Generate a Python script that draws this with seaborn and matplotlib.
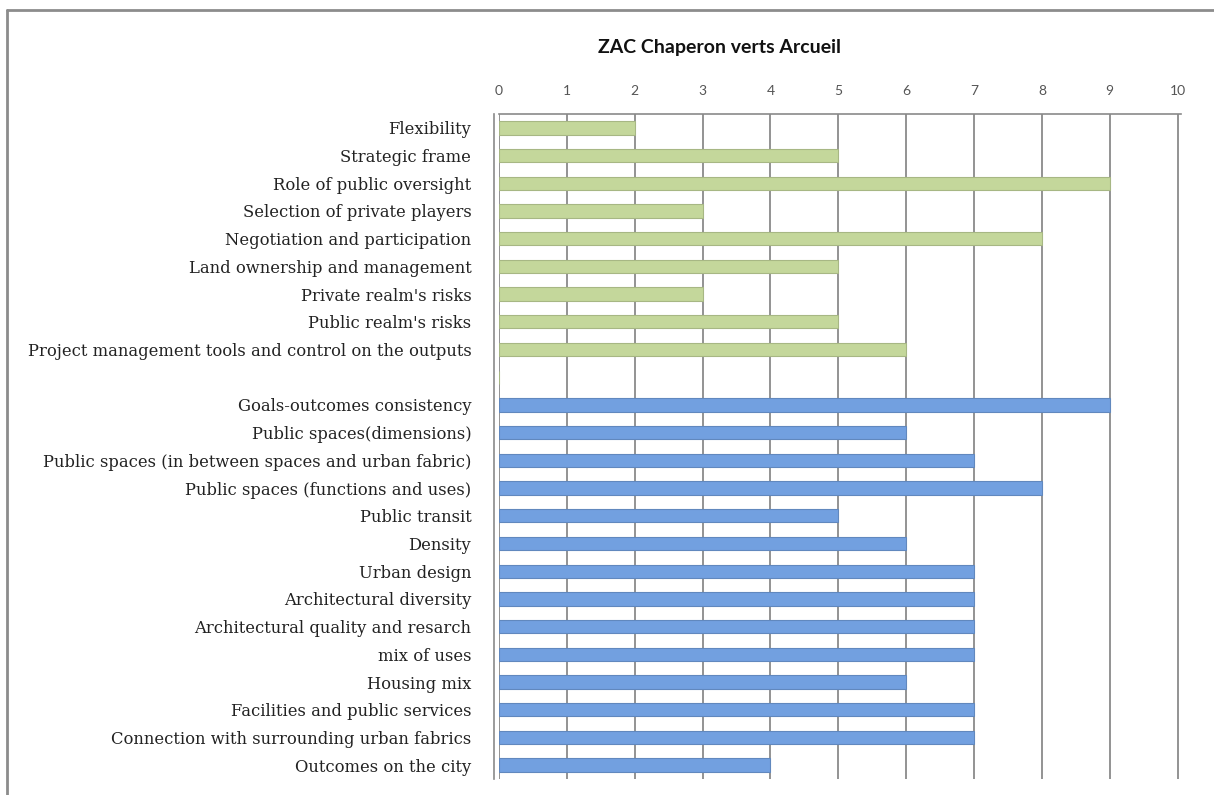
import matplotlib
matplotlib.use("Agg")
import matplotlib.pyplot as plt
import seaborn as sns
import pandas as pd
import numpy as np

# Process indicators (green) and outcome indicators (blue)
process_labels = [
    "Flexibility",
    "Strategic frame",
    "Role of public oversight",
    "Selection of private players",
    "Negotiation and participation",
    "Land ownership and management",
    "Private realm's risks",
    "Public realm's risks",
    "Project management tools and control on the outputs",
]
process_scores = [2, 5, 9, 3, 8, 5, 3, 5, 6]

outcome_labels = [
    "Goals-outcomes consistency",
    "Public spaces(dimensions)",
    "Public spaces (in between spaces and urban fabric)",
    "Public spaces (functions and uses)",
    "Public transit",
    "Density",
    "Urban design",
    "Architectural diversity",
    "Architectural quality and resarch",
    "mix of uses",
    "Housing mix",
    "Facilities and public services",
    "Connection with surrounding urban fabrics",
    "Outcomes on the city",
]
outcome_scores = [9, 6, 7, 8, 5, 6, 7, 7, 7, 7, 6, 7, 7, 4]

x_ticks = list(range(0, 11))
title = "ZAC Chaperon verts Arcueil"

green = "#c4d79b"
blue = "#72a0e0"

# one blank separator row between the two groups
spacer = " "
categories = process_labels + [spacer] + outcome_labels
scores = process_scores + [0] + outcome_scores
groups = ["process"] * len(process_labels) + ["process"] + ["outcome"] * len(outcome_labels)
df = pd.DataFrame({"category": categories, "score": scores, "group": groups})

sns.set_theme(style="white")
plt.rcParams["font.family"] = ["DejaVu Serif"]

fig = plt.figure(figsize=(12.14, 7.95), dpi=100)
fig.patch.set_facecolor("white")
ax = fig.add_axes([499 / 1214, 1 - 779 / 795, (1181 - 499) / 1214, (779 - 114) / 795])

# vertical gridlines behind the bars
for v in x_ticks:
    ax.axvline(v, color="#8a8a8a", lw=1.3, zorder=0)

sns.barplot(
    data=df, y="category", x="score", hue="group", order=categories,
    palette={"process": green, "outcome": blue}, dodge=False, orient="h",
    width=0.48, legend=False, ax=ax, zorder=2, saturation=1,
)
for patch in ax.patches:
    fc = patch.get_facecolor()
    edge = tuple(c * 0.85 for c in fc[:3])
    patch.set_edgecolor(edge)
    patch.set_linewidth(0.8)

ax.set_xlim(0, 10.05)
ax.set_ylim(len(categories) - 0.5, -0.5)
ax.xaxis.tick_top()
ax.set_xticks(x_ticks)
ax.set_xticklabels([str(t) for t in x_ticks], family=["Lato", "DejaVu Sans"])
ax.tick_params(axis="x", length=0, pad=12, labelsize=10, labelcolor="#555555")
ax.set_xlabel("")
ax.set_ylabel("")

ax.set_yticks(range(len(categories)))
ax.set_yticklabels(categories)
ax.tick_params(axis="y", which="major", length=0, pad=16, labelsize=11.8, labelcolor="#222222")
# small marks at row boundaries on the left axis
ax.set_yticks(np.arange(-0.5, len(categories), 1), minor=True)
ax.tick_params(axis="y", which="minor", length=5, color="#8a8a8a", width=1)

for side in ["right", "bottom"]:
    ax.spines[side].set_visible(False)
ax.spines["top"].set_color("#8a8a8a")
ax.spines["top"].set_linewidth(1.2)
ax.spines["left"].set_color("#8a8a8a")
ax.spines["left"].set_linewidth(1.2)
ax.spines["left"].set_position(("data", -0.08))

fig.text(719 / 1214, 1 - 47 / 795, title, ha="center", va="center",
         family=["Lato", "DejaVu Sans"], fontweight="bold", fontsize=14, color="#111111")

# outer frame of the chart area
fig.add_artist(plt.Line2D([7 / 1214, 7 / 1214], [0, 1 - 10 / 795], color="#8c8c8c", lw=2,
                          transform=fig.transFigure))
fig.add_artist(plt.Line2D([7 / 1214, 1], [1 - 10 / 795, 1 - 10 / 795], color="#8c8c8c", lw=2,
                          transform=fig.transFigure))

fig.savefig("out.png", dpi=100, facecolor="white")
